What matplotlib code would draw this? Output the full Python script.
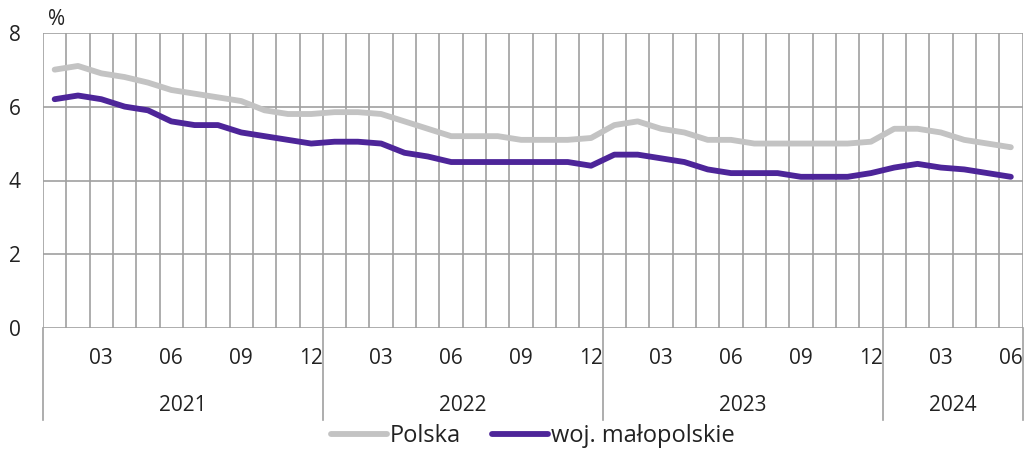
import matplotlib.pyplot as plt
import matplotlib.transforms as mtransforms
import numpy as np

plt.rcParams['font.family'] = ['Open Sans', 'DejaVu Sans']

# monthly data, 2021-01 .. 2024-06
years = ["2021", "2022", "2023", "2024"]
months_per_year = [12, 12, 12, 6]
month_labels = ["03", "06", "09", "12"]

polska = [7.0, 7.1, 6.9, 6.8, 6.65, 6.45, 6.35, 6.25, 6.15, 5.9, 5.8, 5.8,
          5.85, 5.85, 5.8, 5.6, 5.4, 5.2, 5.2, 5.2, 5.1, 5.1, 5.1, 5.15,
          5.5, 5.6, 5.4, 5.3, 5.1, 5.1, 5.0, 5.0, 5.0, 5.0, 5.0, 5.05,
          5.4, 5.4, 5.3, 5.1, 5.0, 4.9]
malopolskie = [6.2, 6.3, 6.2, 6.0, 5.9, 5.6, 5.5, 5.5, 5.3, 5.2, 5.1, 5.0,
               5.05, 5.05, 5.0, 4.75, 4.65, 4.5, 4.5, 4.5, 4.5, 4.5, 4.5, 4.4,
               4.7, 4.7, 4.6, 4.5, 4.3, 4.2, 4.2, 4.2, 4.1, 4.1, 4.1, 4.2,
               4.35, 4.45, 4.35, 4.3, 4.2, 4.1]

n = len(polska)
x = np.arange(n)

fig = plt.figure(figsize=(10.24, 4.5), dpi=100)
ax = fig.add_axes([43/1024, 1-328.3/450, 979.5/1024, 295.6/450])

grid_col = '#a0a0a0'
ax.plot(x, polska, color='#c3c3c3', linewidth=4.2, solid_capstyle='round',
        solid_joinstyle='round', label='Polska', zorder=3)
ax.plot(x, malopolskie, color='#4d2599', linewidth=4.2, solid_capstyle='round',
        solid_joinstyle='round', label='woj. małopolskie', zorder=4)

ax.set_xlim(-0.5, n - 0.5)
ax.set_ylim(0, 8)
ax.set_yticks([0, 2, 4, 6, 8])

# month ticks every quarter
pos, labs = [], []
start = 0
for cnt in months_per_year:
    for m in range(cnt):
        if (m + 1) % 3 == 0:
            pos.append(start + m)
            labs.append(month_labels[(m + 1) // 3 - 1])
    start += cnt
ax.set_xticks(pos)
ax.set_xticklabels(labs)
ax.set_xticks(np.arange(-0.5, n, 1), minor=True)

ax.grid(True, axis='y', color=grid_col, linewidth=1.2)
ax.grid(True, axis='x', which='minor', color=grid_col, linewidth=1.2)
ax.grid(False, axis='x', which='major')
ax.tick_params(axis='both', which='both', length=0)
ax.tick_params(axis='y', labelsize=15, pad=16, colors='#222222')
ax.tick_params(axis='x', labelsize=15, pad=14, colors='#222222')
for s in ax.spines.values():
    s.set_visible(False)
ax.set_axisbelow(True)

# year separators and labels
trans = mtransforms.blended_transform_factory(ax.transData, ax.transAxes)
bounds = [-0.5]
for cnt in months_per_year:
    bounds.append(bounds[-1] + cnt)
for b in bounds:
    ax.plot([b, b], [0, -0.31], transform=trans, color=grid_col, linewidth=1.2, clip_on=False)
for i, yr in enumerate(years):
    ax.text((bounds[i] + bounds[i + 1]) / 2, -0.26, yr, transform=trans,
            ha='center', va='center', fontsize=15, color='#222222')

ax.text(-0.3, 1.01, '%', transform=trans, ha='left', va='bottom', fontsize=15, color='#222222')

fig.legend(loc='center', bbox_to_anchor=(0.52, 0.03), ncol=2, frameon=False,
           fontsize=17, handlelength=2.4, handletextpad=0.1, columnspacing=1.3,
           labelcolor='#222222')

plt.savefig('out.png', dpi=100)
